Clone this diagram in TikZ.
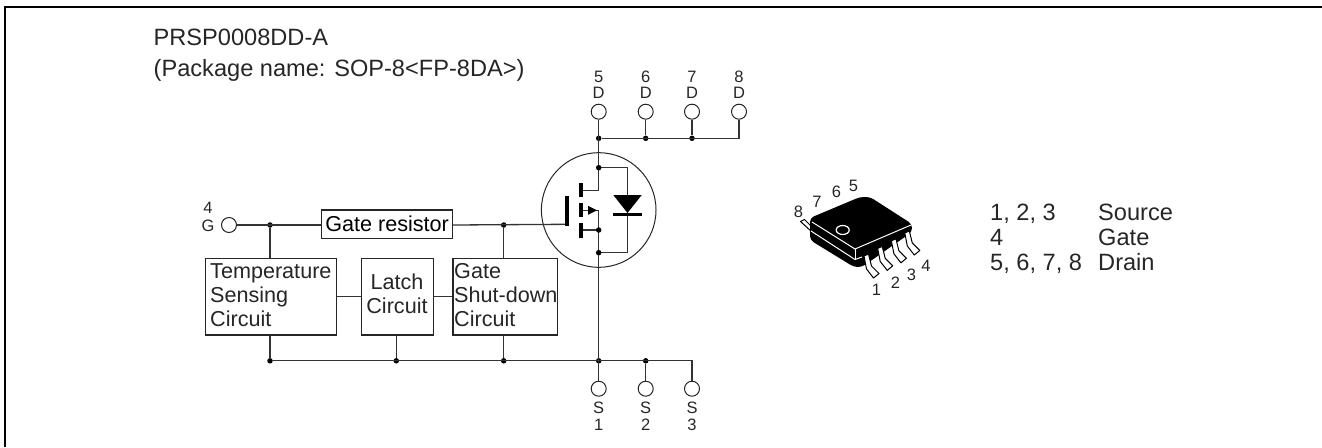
\documentclass[tikz,border=0pt]{standalone}
\usepackage{fontspec}
\setmainfont{Liberation Sans}
\usetikzlibrary{arrows.meta}
\begin{document}
\begin{tikzpicture}
    [
        x=1pt, y=-1pt,
        wire/.style={line width=1.3pt, color=black!80},
        block_node/.style={draw=black!85, line width=1.2pt, fill=white, inner sep=0pt, anchor=north west, align=left},
        pin_node/.style={circle, draw=black!85, line width=1pt, fill=white, minimum size=15pt, inner sep=0pt},
        dot_node/.style={circle, fill=black, minimum size=5.5pt, inner sep=0pt},
        pin_text/.style={inner sep=0pt, font=\fontsize{16.5}{16}\selectfont, text=black!85},
        main_text/.style={inner sep=0pt, anchor=base west, font=\fontsize{21.6}{24}\selectfont, text=black!85},
        title_text/.style={main_text, font=\fontsize{23.6}{26}\selectfont},
        lead_shape/.style={draw=black, line width=1pt, fill=white, line join=round},
    ]
        \useasboundingbox (0,0) rectangle (1322,447);
        \draw[line width=2pt] (5,447) -- (5,7) -- (1322,7);
        \node[title_text] (title) at (153.5,45) {PRSP0008DD-A};
        \node[title_text] (subtitle) at (153.5,76) {(Package name: SOP-8<FP-8DA>)};
        % drain pins
        \node[pin_node] (d5) at (598.7,111.7) {};
        \node[pin_node] (d6) at (645.7,111.7) {};
        \node[pin_node] (d7) at (692,111.7) {};
        \node[pin_node] (d8) at (739,111.7) {};
        \node[pin_text] (d5t) at (598.7,93) {D};
        \node[pin_text] (d6t) at (645.7,93) {D};
        \node[pin_text] (d7t) at (692,93) {D};
        \node[pin_text] (d8t) at (739,93) {D};
        \node[pin_text] (d5n) at (598.7,77) {5};
        \node[pin_text] (d6n) at (645.7,77) {6};
        \node[pin_text] (d7n) at (692,77) {7};
        \node[pin_text] (d8n) at (739,77) {8};
        \node[dot_node] (j5) at (598.7,138.3) {};
        \node[dot_node] (j6) at (645.7,138.3) {};
        \node[dot_node] (j7) at (692,138.3) {};
        \coordinate (j8) at (739,138.3);
        % source pins
        \node[pin_node] (s1) at (598.7,388.7) {};
        \node[pin_node] (s2) at (645.7,388.7) {};
        \node[pin_node] (s3) at (692,388.7) {};
        \node[pin_text] (s1t) at (598.7,407.5) {S};
        \node[pin_text] (s2t) at (645.7,407.5) {S};
        \node[pin_text] (s3t) at (692,407.5) {S};
        \node[pin_text] (s1n) at (598.7,425) {1};
        \node[pin_text] (s2n) at (645.7,425) {2};
        \node[pin_text] (s3n) at (692,425) {3};
        \node[dot_node] (b1) at (598.7,360.8) {};
        \node[dot_node] (b2) at (645.7,360.8) {};
        \coordinate (b3) at (692,360.8);
        % gate side
        \node[pin_node] (g4) at (229,225) {};
        \node[pin_text] (g4t) at (208,226) {G};
        \node[pin_text] (g4n) at (208,208) {4};
        \node[dot_node] (jg1) at (270,225) {};
        \node[dot_node] (jg2) at (503.7,225) {};
        \node[dot_node] (jb1) at (270,360.8) {};
        \node[dot_node] (jb2) at (396.3,360.8) {};
        \node[dot_node] (jb3) at (503.7,360.8) {};
        \node[block_node, minimum width=131pt, minimum height=28.4pt, align=center] (resistor) at (321,209.3) {\fontsize{21.6}{24}\selectfont Gate resistor};
        \node[block_node, minimum width=131pt, minimum height=76.6pt] (temp) at (204.7,257.7) {};
        \node[block_node, minimum width=72pt, minimum height=76.6pt] (latch) at (361,257.7) {};
        \node[block_node, minimum width=104.4pt, minimum height=76.6pt] (shut) at (452.3,257.7) {};
        \node[main_text, align=left, anchor=north west] (tempt) at (210,263.5) {Temperature\\Sensing\\Circuit};
        \node[main_text, align=center, anchor=north] (latcht) at (397,274) {Latch\\Circuit};
        \node[main_text, align=left, anchor=north west] (shutt) at (454,263.5) {Gate\\Shut-down\\Circuit};
        % mosfet
        \coordinate (drain) at (598.7,190.3);
        \coordinate (source) at (598.7,210.3);
        \coordinate (dtop) at (598.7,167.7);
        \coordinate (dbot) at (598.7,252.7);
        \coordinate (stub) at (598.7,230);
        \coordinate (gate) at (567,224.3);
        \draw[line width=1pt, color=black!85] (598.7,210) circle (57.3);
        \draw[wire] (g4) -- (resistor.west |- g4);
        \draw[wire] (resistor.east |- g4) -- (gate);
        \draw[wire] (jg1) -- (jg1 |- temp.north);
        \draw[wire] (jg2) -- (jg2 |- shut.north);
        \draw[wire] (temp.east |- latch.west) -- (latch.west);
        \draw[wire] (latch.east) -- (shut.west);
        \draw[wire] (jb1 |- temp.south) -- (jb1) -- (b3) -- (s3);
        \draw[wire] (jb2 |- latch.south) -- (jb2);
        \draw[wire] (jb3 |- shut.south) -- (jb3);
        \draw[wire] (d5) -- (drain) -- (580.7,190.3);
        \draw[wire] (d6) -- (j6);
        \draw[wire] (d7) -- (j7);
        \draw[wire] (d8) -- (j8) -- (j5);
        \draw[wire] (b2) -- (s2);
        \draw[wire] (s1) -- (source) -- (580.7,210.3);
        \draw[wire] (580.7,230) -- (stub);
        \draw[wire] (dtop) -- (627.3,167.7) -- (627.3,252.7) -- (dbot);
        \fill[black] (588,205.8) -- (597,210.3) -- (588,214.8) -- cycle;
        \draw[line width=4pt] (567,196) -- (567,225.7);
        \draw[line width=4pt] (580.7,183) -- (580.7,197.3);
        \draw[line width=4pt] (580.7,203) -- (580.7,217.3);
        \draw[line width=4pt] (580.7,223.3) -- (580.7,237.7);
        \fill[black] (613.3,195) -- (641.7,195) -- (627.5,213) -- cycle;
        \draw[line width=3pt] (613,214.7) -- (642,214.7);
        \node[dot_node] (jt) at (dtop) {};
        \node[dot_node] (js) at (stub) {};
        \node[dot_node] (jd) at (dbot) {};
        % package
        \draw[lead_shape] (800.5,221.5) -- (804.5,219.5) -- (812,227) -- (812,232) -- cycle;
        \fill[black, rounded corners=4pt] (810,218) -- (860,197) -- (870,197) -- (912,224) -- (912,232) -- (862,267) -- (854,267) -- (810,240) -- cycle;
        \draw[white, line width=1pt] (812,222) -- (855,249) -- (911,225);
        \draw[white, line width=1pt] (811,231) -- (855,259.5) -- (862,257);
        \draw[white, line width=1pt] (855,249) -- (855,259.5);
        \draw[white, line width=1.2pt] (842.7,230) ellipse (6.5 and 4.5);
        \foreach \dx/\dy in {0/0, 13.7/-7.6, 27.4/-15.2, 40.8/-23}
        {
            \draw[lead_shape, xshift=\dx, yshift=-\dy] (864,256) -- (866.5,269) -- (873.5,278) -- (879,273.5) -- (871.5,266) -- (868.5,254) -- cycle;
        }
        \node[pin_text] (p8) at (798.5,211.5) {8};
        \node[pin_text] (p7) at (817,201.5) {7};
        \node[pin_text] (p6) at (836.5,191.5) {6};
        \node[pin_text] (p5) at (853.5,186) {5};
        \node[pin_text] (p1) at (876.5,290) {1};
        \node[pin_text] (p2) at (895.5,282.5) {2};
        \node[pin_text] (p3) at (911.5,275) {3};
        \node[pin_text] (p4) at (926,266) {4};
        % pin table
        \node[title_text] (t1) at (990,220) {1, 2, 3};
        \node[title_text] (t2) at (990,245) {4};
        \node[title_text] (t3) at (990,270) {5, 6, 7, 8};
        \node[title_text] (n1) at (1098,220) {Source};
        \node[title_text] (n2) at (1098,245) {Gate};
        \node[title_text] (n3) at (1098,270) {Drain};
    \end{tikzpicture}
\end{document}
